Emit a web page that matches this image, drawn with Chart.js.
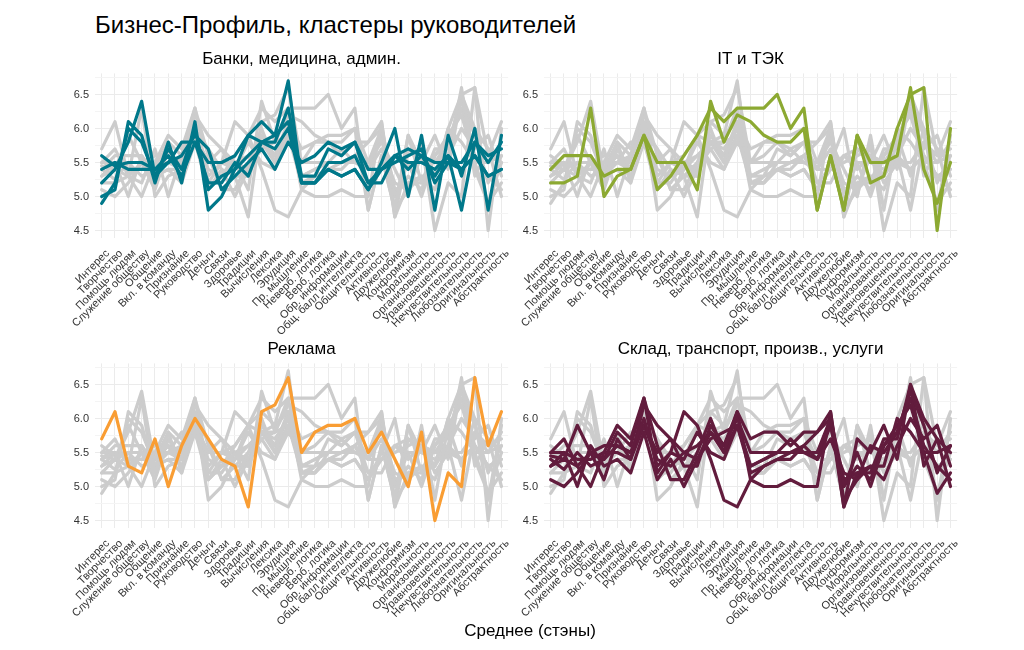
<!DOCTYPE html>
<html>
<head>
<meta charset="utf-8">
<script src="https://cdn.jsdelivr.net/npm/chart.js@4"></script>
<style>
  body { margin: 0; background: #fff; width: 1024px; height: 650px; position: relative; overflow: hidden;
         font-family: 'Liberation Sans', Arial, sans-serif; }
  canvas { position: absolute; }
  #title { position: absolute; left: 95px; top: 11px; font-size: 24px; color: #000; }
  #xtitle { position: absolute; left: 95px; width: 870px; top: 621px; text-align: center; font-size: 17px; color: #000; }
</style>
</head>
<body>
<div id="title">Бизнес-Профиль, кластеры руководителей</div>
<canvas id="c1" width="460" height="310" style="left:60px;top:38px"></canvas>
<canvas id="c2" width="460" height="310" style="left:509px;top:38px"></canvas>
<canvas id="c3" width="460" height="310" style="left:60px;top:328px"></canvas>
<canvas id="c4" width="460" height="310" style="left:509px;top:328px"></canvas>
<div id="xtitle">Среднее (стэны)</div>
<script>
var categories = ['Интерес', 'Творчество', 'Помощь людям', 'Служение обществу', 'Общение', 'Вкл. в команду',
	'Признание', 'Руководство', 'Деньги', 'Связи', 'Здоровье', 'Традиции', 'Вычисления', 'Лексика', 'Эрудиция',
	'Пр. мышление', 'Неверб. логика', 'Верб. логика', 'Обр. информации', 'Общ. балл интеллекта', 'Общительность',
	'Активность', 'Дружелюбие', 'Конформизм', 'Моральность', 'Организованность', 'Уравновешенность',
	'Нечувствительность', 'Любознательность', 'Оригинальность', 'Абстрактность'];

var yTicks = [4.5, 5.0, 5.5, 6.0, 6.5];

// Банки, медицина, админ.
var bankClusters = [
	[5.0, 5.1, 6.1, 5.9, 5.2, 5.8, 5.2, 6.1, 4.8, 5.0, 5.4, 5.9, 6.1, 5.9, 6.7, 5.2, 5.2, 5.4, 5.3, 5.4, 5.1, 5.5, 6.0, 5.0, 5.9, 4.8, 5.9, 5.3, 6.0, 4.8, 5.9],
	[4.9, 5.2, 6.0, 5.8, 5.3, 5.7, 5.4, 6.0, 5.1, 5.3, 5.4, 5.6, 5.8, 5.8, 6.3, 5.3, 5.3, 5.7, 5.6, 5.8, 5.2, 5.2, 5.6, 5.7, 5.6, 5.3, 5.6, 4.8, 5.8, 5.5, 5.8],
	[5.2, 5.4, 5.8, 6.4, 5.3, 5.5, 5.6, 5.9, 5.7, 5.1, 5.3, 5.5, 5.7, 5.4, 5.8, 5.5, 5.6, 5.8, 5.7, 5.8, 5.4, 5.4, 5.5, 5.6, 5.7, 5.2, 5.5, 5.5, 5.8, 5.6, 5.7],
	[5.6, 5.45, 5.5, 5.5, 5.4, 5.6, 5.3, 5.8, 5.2, 5.2, 5.5, 5.3, 5.8, 5.9, 6.1, 5.2, 5.2, 5.5, 5.5, 5.6, 5.2, 5.4, 5.6, 5.5, 5.5, 5.4, 5.6, 5.4, 5.6, 5.3, 5.4],
	[5.4, 5.5, 5.4, 5.4, 5.4, 5.5, 5.8, 5.8, 5.5, 5.5, 5.6, 5.9, 5.8, 5.7, 6.0, 5.2, 5.2, 5.4, 5.3, 5.4, 5.1, 5.4, 5.6, 5.4, 5.6, 5.5, 5.5, 5.4, 5.6, 5.3, 5.4]
];

// IT и ТЭК
var itClusters = [
	[5.4, 5.6, 5.6, 5.6, 5.3, 5.4, 5.4, 5.9, 5.5, 5.5, 5.5, 5.1, 6.4, 5.8, 6.2, 6.1, 5.9, 5.8, 5.8, 6.0, 4.8, 5.6, 4.8, 5.9, 5.5, 5.5, 5.6, 6.6, 5.4, 4.9, 5.5],
	[5.2, 5.2, 5.3, 6.3, 5.0, 5.3, 5.4, 5.9, 5.1, 5.3, 5.6, 5.9, 6.3, 6.1, 6.3, 6.3, 6.3, 6.5, 6.0, 6.3, 4.8, 5.6, 4.8, 5.9, 5.2, 5.3, 6.0, 6.5, 6.6, 4.5, 6.0]
];

// Реклама
var adClusters = [
	[5.7, 6.1, 5.3, 5.2, 5.7, 5.0, 5.6, 6.0, 5.7, 5.4, 5.3, 4.7, 6.1, 6.2, 6.6, 5.5, 5.8, 5.9, 5.9, 6.0, 5.5, 5.8, 5.4, 5.0, 5.8, 4.5, 5.2, 5.0, 6.6, 5.6, 6.1]
];

// Склад, транспорт, произв., услуги
var storeClusters = [
	[5.1, 5.0, 5.2, 5.5, 5.4, 5.6, 5.5, 6.0, 5.3, 5.5, 6.1, 5.9, 5.4, 4.8, 4.7, 5.1, 5.0, 5.0, 5.1, 5.0, 5.0, 6.1, 4.7, 5.2, 5.3, 5.1, 5.6, 6.0, 5.7, 5.9, 5.3],
	[5.5, 5.7, 5.3, 5.0, 5.5, 5.9, 5.7, 6.3, 5.6, 5.1, 5.1, 5.5, 6.0, 5.5, 6.1, 5.7, 5.8, 5.8, 5.6, 5.8, 5.8, 6.0, 4.7, 5.7, 5.5, 5.9, 5.4, 6.5, 6.0, 5.7, 5.0],
	[5.45, 5.4, 5.9, 5.5, 5.1, 5.7, 5.4, 6.2, 5.9, 5.7, 5.3, 5.3, 5.9, 5.6, 6.0, 5.5, 5.5, 5.5, 5.5, 5.5, 5.5, 5.9, 5.0, 5.5, 5.0, 5.6, 5.8, 6.4, 5.9, 5.2, 5.6],
	[5.3, 5.5, 5.0, 5.6, 5.3, 5.4, 5.2, 5.8, 5.1, 5.4, 5.0, 5.4, 5.7, 5.8, 5.9, 5.2, 5.3, 5.4, 5.5, 5.5, 5.4, 5.7, 5.2, 5.1, 5.3, 5.3, 6.0, 5.8, 5.5, 4.9, 5.2],
	[5.4, 5.25, 5.5, 5.3, 5.4, 5.8, 5.6, 6.3, 5.2, 5.5, 5.4, 5.8, 5.5, 5.4, 5.9, 5.3, 5.4, 5.5, 5.7, 5.5, 5.5, 6.0, 5.1, 5.2, 5.2, 5.7, 5.7, 6.5, 5.3, 5.7, 5.5],
	[5.5, 5.5, 5.4, 5.4, 5.5, 5.5, 5.4, 5.9, 5.4, 5.3, 5.5, 5.6, 5.8, 5.6, 6.1, 5.1, 5.3, 5.4, 5.4, 5.6, 5.8, 6.1, 4.8, 5.1, 5.6, 5.5, 5.8, 6.3, 5.6, 5.3, 5.1],
	[5.3, 5.4, 5.3, 5.5, 5.6, 5.6, 5.5, 5.9, 5.5, 5.7, 5.5, 5.4, 5.8, 5.5, 5.9, 5.3, 5.4, 5.5, 5.5, 5.6, 5.4, 5.9, 5.0, 5.3, 5.1, 5.6, 5.9, 6.2, 5.5, 5.5, 5.6]
];

var panels = [
	{ id: 'c1', title: 'Банки, медицина, админ.', clusters: bankClusters, color: '#00788A' },
	{ id: 'c2', title: 'IT и ТЭК', clusters: itClusters, color: '#8CA932' },
	{ id: 'c3', title: 'Реклама', clusters: adClusters, color: '#F99D33' },
	{ id: 'c4', title: 'Склад, транспорт, произв., услуги', clusters: storeClusters, color: '#621C3D' }
];

Chart.defaults.font.family = "'Liberation Sans', Arial, sans-serif";

panels.forEach(function (p) {
	var datasets = [];
	// grey background: every cluster of the other panels
	panels.forEach(function (other) {
		if (other === p) return;
		other.clusters.forEach(function (s) {
			datasets.push({ data: s, borderColor: '#CCCCCC', order: 2 });
		});
	});
	p.clusters.forEach(function (s) {
		datasets.push({ data: s, borderColor: p.color, order: 1 });
	});

	new Chart(document.getElementById(p.id), {
		type: 'line',
		data: { labels: categories, datasets: datasets },
		options: {
			responsive: false,
			animation: false,
			layout: { padding: { left: 0, right: 4, top: 0, bottom: 0 } },
			elements: {
				line: { borderWidth: 3.2, tension: 0, borderJoinStyle: 'round', borderCapStyle: 'round', fill: false },
				point: { radius: 0, hoverRadius: 0 }
			},
			plugins: {
				legend: { display: false },
				tooltip: { enabled: false },
				title: {
					display: true,
					text: p.title,
					fullSize: false,
					color: '#000',
					font: { size: 17, weight: 'normal' },
					padding: { top: 11, bottom: 4 }
				}
			},
			scales: {
				x: {
					offset: true,
					border: { display: false },
					grid: { offset: false, color: '#EBEBEB', lineWidth: 1, drawTicks: false },
					ticks: { autoSkip: false, minRotation: 45, maxRotation: 45, color: '#333', font: { size: 11 }, padding: 9, labelOffset: 6 },
					afterFit: function (s) { s.height = 110; }
				},
				y: {
					min: 4.39,
					max: 6.81,
					border: { display: false },
					afterBuildTicks: function (s) {
						var t = [];
						yTicks.forEach(function (v) { t.push({ value: v }); t.push({ value: v + 0.25 }); });
						s.ticks = t;
					},
					grid: {
						drawTicks: false,
						color: function (c) { return (c.tick && yTicks.indexOf(c.tick.value) >= 0) ? '#EBEBEB' : '#F4F4F4'; }
					},
					ticks: {
						color: '#333',
						font: { size: 11 },
						padding: 6,
						callback: function (v) { return yTicks.indexOf(v) >= 0 ? v.toFixed(1) : ''; }
					},
					afterFit: function (s) { s.width = 35; }
				}
			}
		}
	});
});
</script>
</body>
</html>
